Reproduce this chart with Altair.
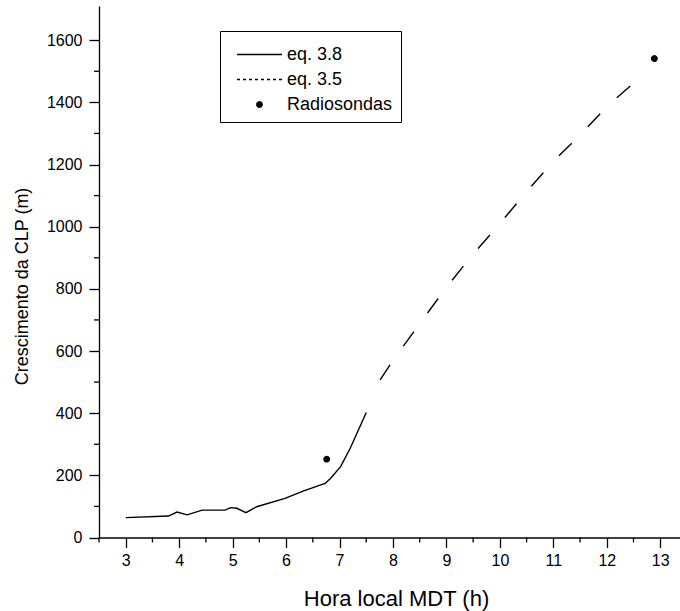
import altair as alt
import pandas as pd

# ---- data ----
series_names = ["eq. 3.8", "eq. 3.5", "Radiosondas"]

eq38_t = [3.0, 3.8, 3.96, 4.15, 4.43, 4.86, 4.96, 5.08, 5.25, 5.45, 5.98, 6.33, 6.73, 6.83, 7.02, 7.20, 7.50]
eq38_v = [64, 69, 82, 73, 88, 88, 96, 94, 80, 99, 126, 150, 174, 190, 228, 287, 402]

eq35_t = [7.76, 8.0, 8.5, 9.0, 9.5, 10.0, 10.5, 11.0, 11.5, 12.0, 12.5]
eq35_v = [507, 570, 688, 805, 912, 1010, 1113, 1210, 1295, 1386, 1462]

radio_t = [6.76, 12.89]
radio_v = [252, 1541]

# axis ticks (major with labels, minor without)
x_major = [3, 4, 5, 6, 7, 8, 9, 10, 11, 12, 13]
x_minor = [2.5, 3.5, 4.5, 5.5, 6.5, 7.5, 8.5, 9.5, 10.5, 11.5, 12.5]
y_major = [0, 200, 400, 600, 800, 1000, 1200, 1400, 1600]
y_minor = [100, 300, 500, 700, 900, 1100, 1300, 1500]

df38 = pd.DataFrame({"t": eq38_t, "v": eq38_v, "series": series_names[0]})
df35 = pd.DataFrame({"t": eq35_t, "v": eq35_v, "series": series_names[1]})
dfr = pd.DataFrame({"t": radio_t, "v": radio_v, "series": series_names[2]})
dfx_minor = pd.DataFrame({"t": x_minor})
dfy_minor = pd.DataFrame({"v": y_minor})

FONT = "Liberation Sans"
PLOT_W = 581
PLOT_H = 531.5

x_enc = alt.X(
    "t:Q",
    scale=alt.Scale(domain=[2.5, 13.37], nice=False, zero=False),
    axis=alt.Axis(
        values=x_major,
        format="d",
        tickSize=10,
        labelPadding=5,
        labelOverlap=False,
        labelFlush=False,
        grid=False,
        domainColor="black",
        domainWidth=1.3,
        tickColor="black",
        tickWidth=1.3,
        labelColor="black",
        labelFont=FONT,
        labelFontSize=16,
        title="Hora local MDT (h)",
        titleFont=FONT,
        titleFontSize=22,
        titleFontWeight="normal",
        titleColor="black",
        titleX=297,
        titleY=68,
        titleBaseline="alphabetic",
    ),
)

y_enc = alt.Y(
    "v:Q",
    scale=alt.Scale(domain=[0, 1710], nice=False, zero=True),
    axis=alt.Axis(
        values=y_major,
        format="d",
        tickSize=10,
        labelPadding=7,
        labelOverlap=False,
        labelFlush=False,
        grid=False,
        domainColor="black",
        domainWidth=1.3,
        tickColor="black",
        tickWidth=1.3,
        labelColor="black",
        labelFont=FONT,
        labelFontSize=16,
        title="Crescimento da CLP (m)",
        titleFont=FONT,
        titleFontSize=18,
        titleFontWeight="normal",
        titleColor="black",
        titleX=-72,
        titleY=280,
        titleBaseline="alphabetic",
    ),
)

SYM = 870  # legend / point symbol size
line_path = "M-1.525,0L1.525,0"
dot_path = "M0.18,0A0.18,0.18,0,1,1,-0.18,0A0.18,0.18,0,1,1,0.18,0Z"

legend = alt.Legend(
    title=None,
    orient="none",
    legendX=121,
    legendY=25,
    strokeColor="black",
    fillColor="white",
    padding=8,
    rowPadding=-3,
    symbolOffset=16,
    labelOffset=12,
    labelExpr="datum.label + '\u00a0\u00a0\u00a0\u00a0'",
    labelFont=FONT,
    labelFontSize=18,
    labelColor="black",
    symbolSize=SYM,
    symbolStrokeWidth=1.5,
)

line38 = alt.Chart(df38).mark_line(color="black", strokeWidth=1.4).encode(x=x_enc, y=y_enc)
line35 = alt.Chart(df35).mark_line(color="black", strokeWidth=1.4, strokeDash=[18, 23]).encode(x=x_enc, y=y_enc)

points = alt.Chart(dfr).mark_point(
    filled=True, strokeWidth=1.5, size=SYM, opacity=1
).encode(
    x=x_enc,
    y=y_enc,
    shape=alt.Shape("series:N", scale=alt.Scale(domain=series_names, range=[line_path, line_path, dot_path]), legend=legend),
    strokeDash=alt.StrokeDash("series:N", scale=alt.Scale(domain=series_names, range=[[1, 0], [3, 3], [1, 0]]), legend=legend),
    stroke=alt.Stroke("series:N", scale=alt.Scale(domain=series_names, range=["black", "black", "black"]), legend=legend),
    fill=alt.Fill("series:N", scale=alt.Scale(domain=series_names, range=["black", "black", "black"]), legend=legend),
)

x_minor_ticks = alt.Chart(dfx_minor).mark_rule(color="black", strokeWidth=1.3).encode(
    x=x_enc, y=alt.value(PLOT_H), y2=alt.value(PLOT_H + 5)
)
y_minor_ticks = alt.Chart(dfy_minor).mark_rule(color="black", strokeWidth=1.3).encode(
    y=y_enc, x=alt.value(0), x2=alt.value(-5)
)

chart = alt.layer(line38, line35, points, x_minor_ticks, y_minor_ticks).properties(
    width=PLOT_W,
    height=PLOT_H,
    autosize=alt.AutoSizeParams(type="none"),
    padding={"left": 99, "top": 6, "right": 0, "bottom": 74},
    background="white",
).configure_view(strokeWidth=0)

chart.save("out.html", embed_options={"renderer": "svg", "actions": False})
